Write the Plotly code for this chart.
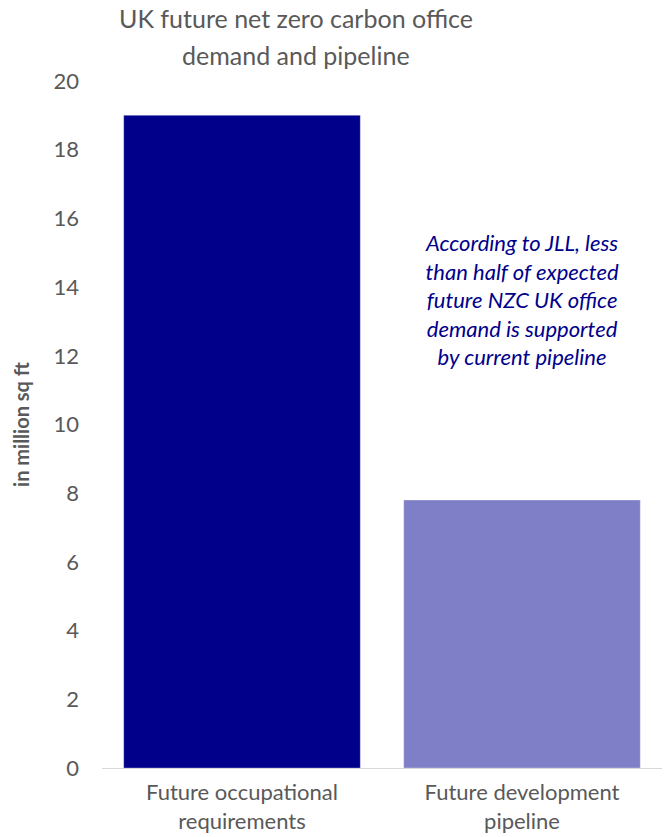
import plotly.graph_objects as go

categories = ["Future occupational<br>requirements", "Future development<br>pipeline"]
values = [19.0, 7.8]
bar_colors = ["#00008B", "#7F7FC7"]
y_ticks = [0, 2, 4, 6, 8, 10, 12, 14, 16, 18, 20]
title_lines = ["UK future net zero carbon office", "demand and pipeline"]

FONT = "Lato, 'Open Sans', sans-serif"
GRAY = "#595959"

fig = go.Figure()
fig.add_trace(go.Bar(
    x=categories, y=values,
    marker=dict(color=bar_colors, line=dict(color="rgba(255,255,255,0.6)", width=0.5)),
    width=0.845,
    hoverinfo="skip",
))

fig.update_layout(
    width=666, height=837,
    margin=dict(l=102, r=4, t=81, b=69),
    paper_bgcolor="white", plot_bgcolor="white",
    showlegend=False,
    font=dict(family=FONT, color=GRAY),
)

# title as two annotations (pixel-centred around x=296)
plot_w = 666 - 102 - 4
plot_h = 837 - 81 - 69
for txt, py in zip(title_lines, [18, 55]):
    fig.add_annotation(
        x=(296 - 102) / plot_w, y=(768 - py) / plot_h, xref="paper", yref="paper",
        text=txt, showarrow=False, xanchor="center", yanchor="middle",
        font=dict(size=25, color=GRAY, family=FONT),
    )

fig.update_xaxes(
    showgrid=False, showline=True, linecolor="#D9D9D9", linewidth=1,
    ticks="", ticklabelstandoff=5, tickfont=dict(size=22, color=GRAY, family=FONT),
)
fig.update_yaxes(
    range=[0, 20], tickvals=y_ticks, showgrid=False, zeroline=False,
    showline=False, ticks="", ticklabelstandoff=22,
    tickfont=dict(size=22, color=GRAY, family=FONT),
    title=dict(text="<b>in million sq ft</b>", font=dict(size=20, color=GRAY, family=FONT), standoff=18),
)

fig.add_annotation(
    x=1, y=13.65, xref="x", yref="y",
    text="<i>According to JLL, less<br>than half of expected<br>future NZC UK office<br>demand is supported<br>by current pipeline</i>",
    showarrow=False, align="center", xanchor="center", yanchor="middle",
    font=dict(size=22, color="#00008B", family=FONT),
)

fig.write_html("out.html")
